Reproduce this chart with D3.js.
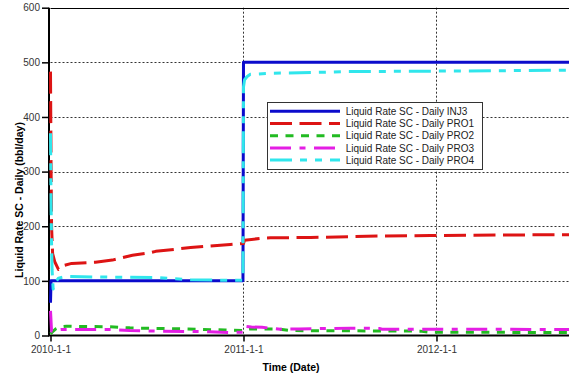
<!DOCTYPE html>
<html>
<head>
<meta charset="utf-8">
<script src="https://cdn.jsdelivr.net/npm/d3@7/dist/d3.min.js"></script>
<style>
  html, body { margin: 0; padding: 0; background: #fff; }
  svg { display: block; font-family: "Liberation Sans", Arial, sans-serif; }
</style>
</head>
<body>
<svg id="chart" width="569" height="377"></svg>
<script>
// Daily liquid rates per well: [date, bbl/day]
const INJ3 = [
  ["2010-01-01", 60], ["2010-01-02", 100], ["2010-12-31", 100],
  ["2011-01-01", 500], ["2012-12-31", 500]
];
const PRO1 = [
  ["2010-01-01", 483], ["2010-01-02", 320], ["2010-01-03", 200], ["2010-01-05", 150],
  ["2010-01-09", 135], ["2010-01-16", 121], ["2010-01-26", 128], ["2010-02-10", 132],
  ["2010-03-27", 134], ["2010-04-28", 138], ["2010-06-05", 147], ["2010-07-06", 151],
  ["2010-07-19", 154], ["2010-09-23", 161], ["2010-12-07", 166.7], ["2010-12-31", 168.5],
  ["2011-01-01", 168.5], ["2011-01-03", 174.5], ["2011-02-02", 177.7], ["2011-02-21", 178.8],
  ["2011-05-08", 179.5], ["2011-09-17", 182], ["2011-12-21", 183], ["2012-05-01", 184],
  ["2012-09-08", 184.5], ["2012-12-31", 184.5]
];
const PRO2 = [
  ["2010-01-01", 3], ["2010-01-04", 6], ["2010-01-11", 12], ["2010-01-21", 16],
  ["2010-01-31", 17], ["2010-04-21", 16], ["2010-05-31", 14], ["2010-07-10", 13],
  ["2010-09-18", 12], ["2010-11-27", 10], ["2010-12-31", 9], ["2011-01-02", 11],
  ["2011-01-16", 12], ["2011-03-07", 12], ["2011-03-31", 9], ["2011-12-01", 8],
  ["2011-12-21", 6], ["2012-09-08", 5.5], ["2012-12-31", 5.5]
];
const PRO3 = [
  ["2010-01-01", 45], ["2010-01-03", 8], ["2010-01-11", 10], ["2010-01-21", 11],
  ["2010-04-21", 11], ["2010-05-31", 9], ["2010-07-20", 8], ["2010-10-28", 7],
  ["2010-12-07", 5.5], ["2010-12-31", 6], ["2011-01-01", 14], ["2011-01-04", 17],
  ["2011-01-16", 15.5], ["2011-02-05", 15], ["2011-03-12", 11.5], ["2011-04-16", 12],
  ["2011-07-22", 13.5], ["2011-09-15", 13], ["2011-09-20", 11.5], ["2012-12-31", 11]
];
const PRO4 = [
  ["2010-01-01", 370], ["2010-01-02", 250], ["2010-01-03", 170], ["2010-01-04", 120],
  ["2010-01-06", 85], ["2010-01-09", 95], ["2010-01-16", 105], ["2010-01-31", 108],
  ["2010-04-11", 107], ["2010-07-20", 106], ["2010-09-23", 102], ["2010-11-27", 101],
  ["2010-12-31", 101], ["2011-01-01", 455], ["2011-01-03", 468], ["2011-01-08", 474],
  ["2011-01-14", 478], ["2011-02-21", 480], ["2011-06-14", 482], ["2011-07-13", 483],
  ["2012-01-08", 484], ["2012-09-08", 485.5], ["2012-12-31", 485.5]
];

const seriesNames = ["Liquid Rate SC - Daily INJ3", "Liquid Rate SC - Daily PRO1",
  "Liquid Rate SC - Daily PRO2", "Liquid Rate SC - Daily PRO3", "Liquid Rate SC - Daily PRO4"];
const seriesData = [INJ3, PRO1, PRO2, PRO3, PRO4];
const seriesColors = ["#0b0bcc", "#dd1414", "#22bb22", "#e41ee4", "#30e6ec"];
const seriesDash = [null, "22,7.5", "8,7.5", "21,8.5,6,8.5", "22,8,7,8,7,8"];

const xTickDates = ["2010-01-01", "2011-01-01", "2012-01-01"];
const xTickLabels = ["2010-1-1", "2011-1-1", "2012-1-1"];
const yTicks = [0, 100, 200, 300, 400, 500, 600];
const xDomain = ["2010-01-01", "2013-01-01"];

const parse = d3.utcParse("%Y-%m-%d");
const svg = d3.select("#chart");

// Plot area runs past the right edge of the window
const plotL = 50.5, plotT = 7.7, plotB = 335.5, plotR = 630;

const x = d3.scaleUtc().domain(xDomain.map(parse)).range([plotL, plotR]);
const y = d3.scaleLinear().domain([0, 600]).range([plotB, plotT]);

// Dotted grid
const grid = svg.append("g").attr("stroke", "#333").attr("stroke-width", 1)
  .attr("stroke-dasharray", "2,2");
grid.selectAll("line.h").data(yTicks.filter(v => v > 0 && v < 600)).join("line")
  .attr("class", "h")
  .attr("x1", plotL).attr("x2", plotR)
  .attr("y1", d => Math.round(y(d)) + 0.5).attr("y2", d => Math.round(y(d)) + 0.5);
grid.selectAll("line.v").data(xTickDates.slice(1).map(parse)).join("line")
  .attr("class", "v")
  .attr("x1", d => Math.round(x(d)) + 0.5).attr("x2", d => Math.round(x(d)) + 0.5)
  .attr("y1", plotT).attr("y2", plotB);

// Top frame
svg.append("line").attr("x1", plotL).attr("x2", plotR)
  .attr("y1", Math.round(y(600)) + 0.5).attr("y2", Math.round(y(600)) + 0.5)
  .attr("stroke", "#000").attr("stroke-width", 1);

// Axes sit under the series so the start-up spikes stay visible
const axisX0 = plotL - 1.5;
const yAxis = d3.axisLeft(y).tickValues(yTicks).tickSize(7).tickPadding(2);
const gy = svg.append("g").attr("transform", `translate(${axisX0},0)`).call(yAxis);
const xAxis = d3.axisBottom(x).tickValues(xTickDates.map(parse))
  .tickFormat((d, i) => xTickLabels[i]).tickSize(6).tickPadding(4);
const gx = svg.append("g").attr("transform", `translate(0,${plotB})`).call(xAxis);

[gx, gy].forEach(g => {
  g.select(".domain").attr("stroke", "#000").attr("stroke-width", 2);
  g.selectAll(".tick line").attr("stroke", "#000").attr("stroke-width", 1.5);
  g.selectAll(".tick text").attr("fill", "#333").style("font-size", "10px")
    .style("font-family", "'Liberation Sans', Arial, sans-serif");
});
gx.select(".domain").attr("d", `M${axisX0 - 1},0H${plotR}`);
gy.select(".domain").attr("d", `M0,${plotB}V${plotT}`);

// Series lines
const line = d3.line().x(d => x(parse(d[0]))).y(d => y(d[1]));
svg.append("g").selectAll("path").data(seriesData).join("path")
  .attr("d", line)
  .attr("fill", "none")
  .attr("stroke", (d, i) => seriesColors[i])
  .attr("stroke-width", 3)
  .attr("stroke-linejoin", "round")
  .attr("stroke-dasharray", (d, i) => seriesDash[i]);

// Axis titles
svg.append("text").attr("x", 291).attr("y", 370.5).attr("text-anchor", "middle")
  .style("font-size", "10.5px").style("font-weight", "bold").text("Time (Date)");
svg.append("text").attr("transform", "translate(22.8,200) rotate(-90)")
  .attr("text-anchor", "middle")
  .style("font-size", "10.5px").style("font-weight", "bold")
  .text("Liquid Rate SC - Daily (bbl/day)");

// Legend
const lg = svg.append("g").attr("transform", "translate(267,102)");
lg.append("rect").attr("x", 0.5).attr("y", 0.5).attr("width", 215).attr("height", 67)
  .attr("fill", "#fff").attr("stroke", "#333").attr("stroke-width", 1);
const rows = lg.selectAll("g.row").data(seriesNames).join("g").attr("class", "row")
  .attr("transform", (d, i) => `translate(0,${9.3 + i * 12.2})`);
rows.append("line").attr("x1", 3).attr("x2", 73).attr("y1", 0).attr("y2", 0)
  .attr("stroke", (d, i) => seriesColors[i]).attr("stroke-width", 3)
  .attr("stroke-dasharray", (d, i) => seriesDash[i]);
rows.append("text").attr("x", 78.7).attr("y", 3.6).attr("fill", "#222")
  .style("font-size", "10px").text(d => d);
</script>
</body>
</html>
